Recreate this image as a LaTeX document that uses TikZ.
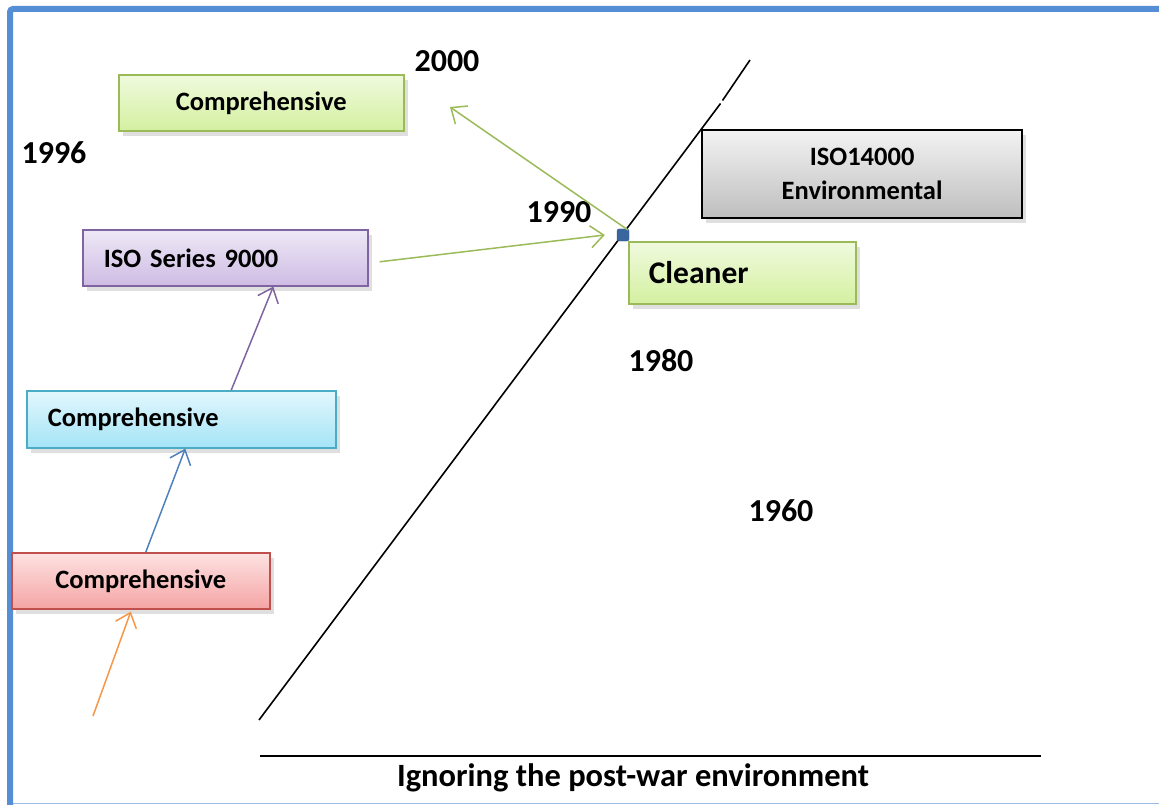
\documentclass[tikz,border=0pt]{standalone}
\usepackage{fontspec}
\setmainfont{Carlito}
\usetikzlibrary{arrows.meta,shadows,calc}
\definecolor{frameblue}{RGB}{85,142,213}
\definecolor{gborder}{RGB}{155,187,89}
\definecolor{pborder}{RGB}{128,100,162}
\definecolor{cborder}{RGB}{75,172,198}
\definecolor{rborder}{RGB}{192,80,77}
\definecolor{oarrow}{RGB}{247,150,70}
\definecolor{barrow}{RGB}{79,129,189}
\definecolor{sqblue}{RGB}{58,102,160}
\tikzset{
  box/.style={draw, line width=1.6pt, anchor=north west, font=\fontsize{26.5}{30}\selectfont\bfseries,
    drop shadow={opacity=0.25, shadow xshift=4pt, shadow yshift=-5pt}},
  greenbox/.style={box, draw=gborder, top color={rgb,255:red,240;green,250;blue,222}, bottom color={rgb,255:red,212;green,240;blue,160}},
  purplebox/.style={box, draw=pborder, top color={rgb,255:red,238;green,232;blue,246}, bottom color={rgb,255:red,206;green,188;blue,228}},
  cyanbox/.style={box, draw=cborder, top color={rgb,255:red,226;green,247;blue,253}, bottom color={rgb,255:red,165;green,228;blue,246}},
  redbox/.style={box, draw=rborder, top color={rgb,255:red,253;green,226;blue,226}, bottom color={rgb,255:red,245;green,164;blue,164}},
  graybox/.style={box, draw=black, line width=2.2pt, top color={rgb,255:red,243;green,243;blue,243}, bottom color={rgb,255:red,190;green,190;blue,190}},
  year/.style={font=\fontsize{32}{36}\selectfont\bfseries, inner sep=0pt},
  conn/.style={line width=1.5pt, -{Straight Barb[length=13pt,width=22pt,line width=1.5pt]}},
}
\begin{document}
\begin{tikzpicture}[x=1pt,y=-1pt]
\useasboundingbox (0,0) rectangle (1159,805);
% frame
\draw[frameblue!60, line width=1.5pt] (10,803.5) -- (1159,803.5);
\draw[frameblue, line width=6pt, rounded corners=3pt] (10,805) -- (10,9) -- (1159,9);

% black lines
\draw[line width=1.6pt] (259,720) -- (720.5,103.5);
\draw[line width=1.6pt] (722.5,100.5) -- (750,60);
\draw[line width=2pt] (260,756) -- (1041,756);

% boxes
\node[greenbox, minimum width=285pt, minimum height=56pt] (comp1) at (118,74) {Comprehensive};
\node[purplebox, minimum width=285pt, minimum height=56pt, inner xsep=21pt, text width=243pt, align=left] (iso9) at (82,229) {ISO Series 9000};
\node[cyanbox, minimum width=309pt, minimum height=57pt, inner xsep=21pt, text width=267pt, align=left] (comp2) at (26,390) {Comprehensive};
\node[redbox, minimum width=258pt, minimum height=56pt] (comp3) at (11,552) {Comprehensive};
\node[graybox, minimum width=320pt, minimum height=88pt, align=center, font=\fontsize{26.5}{34}\selectfont\bfseries] (iso14) at (701,129) {ISO14000\\Environmental};
\node[greenbox, minimum width=227pt, minimum height=62pt, inner xsep=20pt, text width=187pt, align=left, font=\fontsize{31.5}{34}\selectfont\bfseries] (clean) at (628,241) {Cleaner};

% square
\node[fill=sqblue, draw=sqblue!80!black, rounded corners=2pt, minimum size=12pt, inner sep=0pt] (sq) at (623,235) {};

% years
\node[year] (y2000) at (447,61) {2000};
\node[year] (y1996) at (54,153) {1996};
\node[year] (y1990) at (559,212) {1990};
\node[year] (y1980) at (661,361) {1980};
\node[year] (y1960) at (781,511) {1960};

\node[font=\fontsize{32.5}{36}\selectfont\bfseries, inner sep=0pt] (ign) at (633,778) {Ignoring the post-war environment};

% connectors
\coordinate (ostart) at (93,716);
\coordinate (gtip) at (450,107);
\draw[conn, oarrow] (ostart) -- ([xshift=-10pt,yshift=-2pt]comp3.south);
\draw[conn, barrow] ([xshift=5pt]comp3.north) -- ([xshift=4pt]comp2.south);
\draw[conn, pborder] ([xshift=50pt]comp2.north) -- ([xshift=48pt]iso9.south);
\draw[conn, gborder] ([xshift=11pt,yshift=-4pt]iso9.east) -- ([xshift=-12pt]sq.west);
\draw[conn, gborder] ([xshift=5pt,yshift=5pt]sq.center) -- (gtip);
\end{tikzpicture}
\end{document}
